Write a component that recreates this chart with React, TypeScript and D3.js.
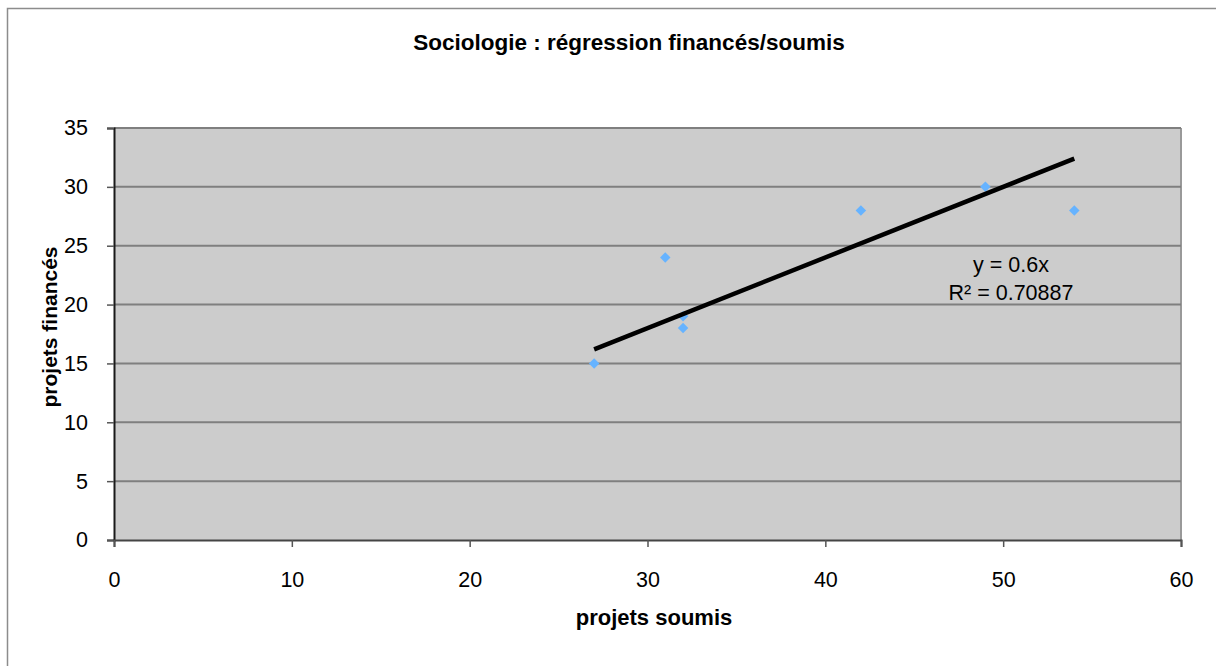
import React, { useEffect, useRef } from 'react';
import * as d3 from 'd3';

// data
const soumis = [27, 31, 32, 32, 42, 49, 54];
const finances = [15, 24, 18, 19, 28, 30, 28];
const xTicks = [0, 10, 20, 30, 40, 50, 60];
const yTicks = [0, 5, 10, 15, 20, 25, 30, 35];
const slope = 0.6;
const equationLines = ['y = 0.6x', 'R² = 0.70887'];

const W = 1216;
const H = 666;
const margin = { top: 128, right: 35, bottom: 126, left: 114 };

export default function App() {
  const ref = useRef<SVGSVGElement>(null);

  useEffect(() => {
    if (!ref.current) return;
    const svg = d3.select(ref.current);
    svg.selectAll('*').remove();

    const x = d3.scaleLinear().domain([0, 60]).range([margin.left, W - margin.right]);
    const y = d3.scaleLinear().domain([0, 35]).range([H - margin.bottom, margin.top]);
    const font = '"Liberation Sans", Arial, sans-serif';

    // outer frame
    svg.append('rect')
      .attr('x', 7.5).attr('y', 8.5)
      .attr('width', W + 20).attr('height', H + 20)
      .attr('fill', '#fff').attr('stroke', '#8c8c8c').attr('stroke-width', 1.5);

    // title
    svg.append('text')
      .attr('x', 629).attr('y', 50)
      .attr('text-anchor', 'middle')
      .attr('font-family', '"Liberation Sans Narrow", "Arial Narrow", ' + font)
      .attr('font-weight', 'bold').attr('font-size', 22.5)
      .attr('fill', '#000')
      .text('Sociologie : régression financés/soumis');

    // plot area
    svg.append('rect')
      .attr('x', x(0)).attr('y', y(35))
      .attr('width', x(60) - x(0)).attr('height', y(0) - y(35))
      .attr('fill', '#cccccc');
    // right shade
    svg.append('line')
      .attr('x1', x(60)).attr('x2', x(60))
      .attr('y1', y(35)).attr('y2', y(0))
      .attr('stroke', '#999').attr('stroke-width', 2);

    // gridlines
    svg.append('g').selectAll('line')
      .data(yTicks.filter(d => d > 0))
      .join('line')
      .attr('x1', x(0)).attr('x2', x(60))
      .attr('y1', d => y(d)).attr('y2', d => y(d))
      .attr('stroke', '#7f7f7f').attr('stroke-width', 2);

    // y axis
    const yAxis = svg.append('g').attr('transform', `translate(${x(0)},0)`)
      .call(d3.axisLeft(y).tickValues(yTicks).tickSize(7).tickPadding(19));
    yAxis.select('.domain').attr('stroke', '#1a1a1a').attr('stroke-width', 2);
    yAxis.selectAll('.tick line').attr('stroke', '#555').attr('stroke-width', 1.5);
    yAxis.selectAll('.tick text').attr('font-family', font).attr('font-size', 21.5).attr('fill', '#000');

    // x axis
    const xAxis = svg.append('g').attr('transform', `translate(0,${y(0)})`)
      .call(d3.axisBottom(x).tickValues(xTicks).tickSize(7).tickPadding(25));
    xAxis.select('.domain').attr('stroke', '#444').attr('stroke-width', 2);
    xAxis.selectAll('.tick line').attr('stroke', '#555').attr('stroke-width', 1.5);
    xAxis.selectAll('.tick text').attr('font-family', font).attr('font-size', 21.5).attr('fill', '#000');

    // axis titles
    svg.append('text')
      .attr('x', 654).attr('y', 625)
      .attr('text-anchor', 'middle')
      .attr('font-family', font).attr('font-weight', 'bold').attr('font-size', 22)
      .text('projets soumis');
    svg.append('text')
      .attr('transform', `translate(57,${(y(0) + y(35)) / 2 - 7}) rotate(-90)`)
      .attr('text-anchor', 'middle')
      .attr('font-family', font).attr('font-weight', 'bold').attr('font-size', 21)
      .text('projets financés');

    // points
    const marker = d3.symbol().type(d3.symbolSquare).size(55);
    svg.append('g').selectAll('path')
      .data(soumis.map((s, i) => [s, finances[i]]))
      .join('path')
      .attr('d', marker)
      .attr('transform', d => `translate(${x(d[0])},${y(d[1])}) rotate(45)`)
      .attr('fill', '#66b3ff');

    // trend line
    const [xmin, xmax] = d3.extent(soumis) as [number, number];
    svg.append('line')
      .attr('x1', x(xmin)).attr('y1', y(slope * xmin))
      .attr('x2', x(xmax)).attr('y2', y(slope * xmax))
      .attr('stroke', '#000').attr('stroke-width', 4.5);

    // equation
    svg.append('g').selectAll('text')
      .data(equationLines)
      .join('text')
      .attr('x', 1011).attr('y', (_, i) => 272 + i * 28)
      .attr('text-anchor', 'middle')
      .attr('font-family', font).attr('font-size', 21.5).attr('fill', '#000')
      .text(d => d);
  }, []);

  return (
    <svg ref={ref} width={W} height={H} style={{ position: 'absolute', left: 0, top: 0 }} />
  );
}
